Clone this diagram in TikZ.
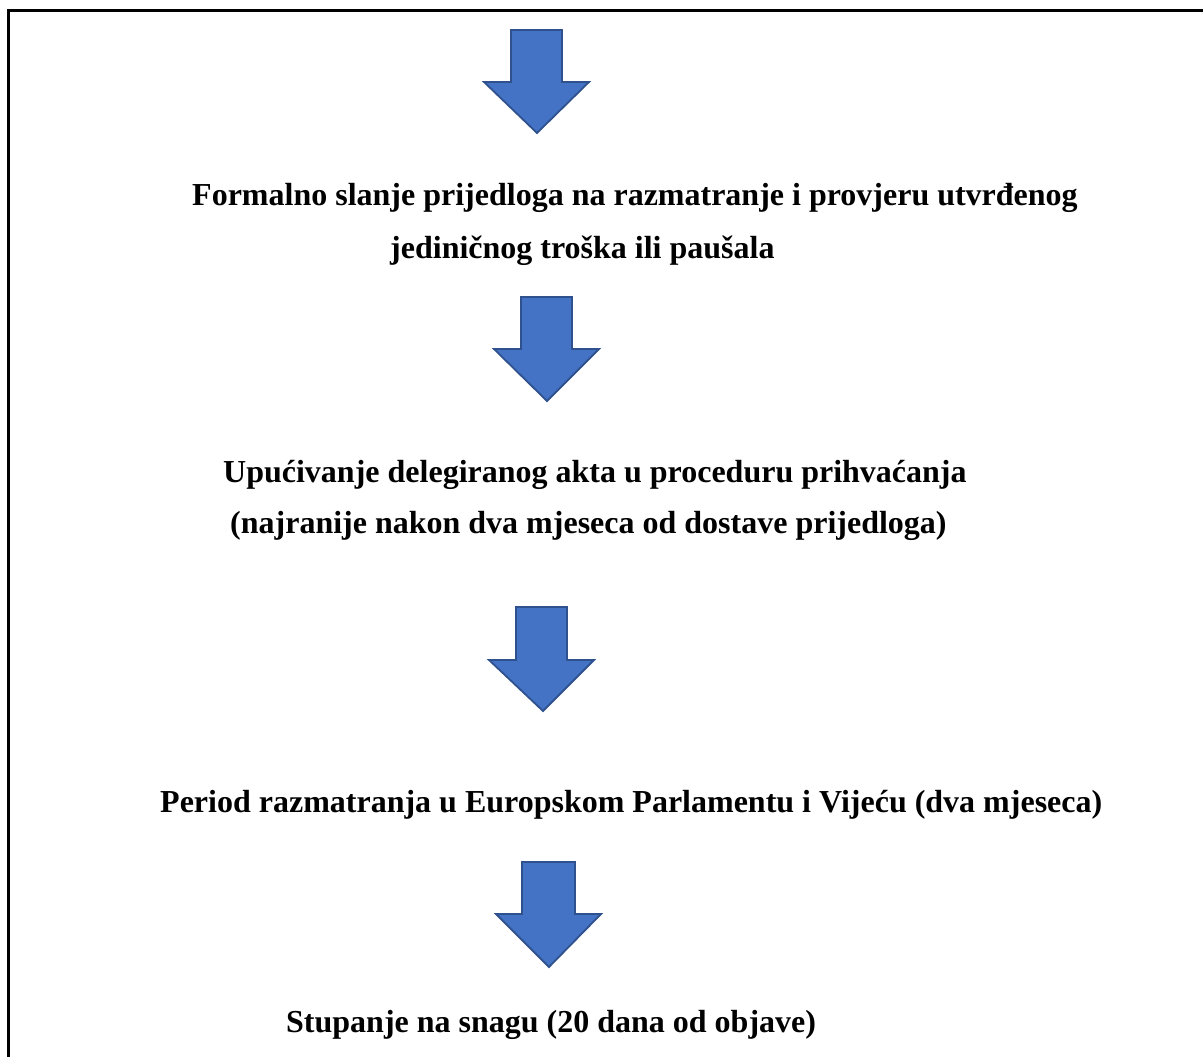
\documentclass[tikz,border=0pt]{standalone}
\usepackage{fontspec}
\setmainfont{Liberation Serif}
\definecolor{arrfill}{HTML}{4472C4}
\definecolor{arrdraw}{HTML}{2F528F}
\tikzset{
  downarrow/.style={fill=arrfill, draw=arrdraw, line width=1.8pt, line join=miter},
  steptext/.style={anchor=base west, inner sep=0pt, font=\fontsize{32}{38}\selectfont\bfseries}
}
\begin{document}
\begin{tikzpicture}[x=1pt,y=-1pt]
\useasboundingbox (0,0) rectangle (1203,1057);
\draw[line width=2.4pt] (8.5,1060) -- (8.5,10.5) -- (1210,10.5);
% arrow 1
\draw[downarrow] (511,30) -- (562,30) -- (562,82) -- (589,82) -- (537,133) -- (484,82) -- (511,82) -- cycle;
\node[steptext] (t1) at (192,205) {Formalno slanje prijedloga na razmatranje i provjeru utvrđenog};
\node[steptext] (t2) at (390,258) {jediničnog troška ili paušala};
% arrow 2
\draw[downarrow] (521,297) -- (572,297) -- (572,349) -- (599,349) -- (547,401) -- (494,349) -- (521,349) -- cycle;
\node[steptext] (t3) at (223,482) {Upućivanje delegiranog akta u proceduru prihvaćanja};
\node[steptext] (t4) at (230,533) {(najranije nakon dva mjeseca od dostave prijedloga)};
% arrow 3
\draw[downarrow] (516,607) -- (567,607) -- (567,660) -- (594,660) -- (543,711) -- (489,660) -- (516,660) -- cycle;
\node[steptext] (t5) at (160,812) {Period razmatranja u Europskom Parlamentu i Vijeću (dva mjeseca)};
% arrow 4
\draw[downarrow] (522,862) -- (575,862) -- (575,914) -- (601,914) -- (549,967) -- (496,914) -- (522,914) -- cycle;
\node[steptext] (t6) at (286,1032) {Stupanje na snagu (20 dana od objave)};
\end{tikzpicture}
\end{document}
